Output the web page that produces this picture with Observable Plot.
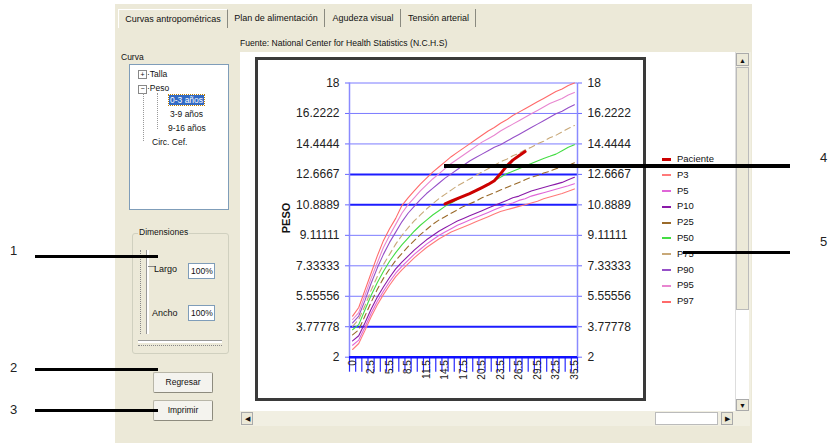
<!DOCTYPE html>
<html><head><meta charset="utf-8">
<script src="https://cdn.jsdelivr.net/npm/d3@7"></script>
<script src="https://cdn.jsdelivr.net/npm/@observablehq/plot@0.6"></script>
<style>
body{margin:0;width:835px;height:443px;overflow:hidden;background:#fff;font-family:"Liberation Sans",Arial,sans-serif;position:relative;color:#111}
.a{position:absolute}
.tab{position:absolute;top:9px;height:18px;line-height:18px;font-size:9px;text-align:center;border-right:1px solid #8a8a80;color:#111}
.tree{position:absolute;font-size:8.5px;white-space:nowrap}
.btn{position:absolute;left:153px;width:58px;height:19px;line-height:19px;font-size:8.5px;text-align:center;background:#f4f3ee;border:1px solid #b8b6a8;border-right-color:#8d8b7e;border-bottom-color:#8d8b7e;border-radius:2px}
.inp{position:absolute;left:188px;width:23px;height:14px;line-height:14px;font-size:8.5px;background:#fff;border:1px solid #7f9db9;padding-left:2px}
.leg{position:absolute;left:662px;font-size:9.5px;height:12px;line-height:12px;white-space:nowrap}
.leg i{display:inline-block;width:9px;height:2px;vertical-align:middle;margin-right:6px}
.cl{position:absolute;background:#000}
.num{position:absolute;font-size:13px;color:#222}
</style></head><body>
<div class="a" style="left:115px;top:4px;width:637px;height:439px;background:#ECE9D8"></div>
<div class="tab" style="left:118px;width:108px;border-left:1px solid #fff;border-top:1px solid #fff">Curvas antropométricas</div>
<div class="tab" style="left:228px;width:96px">Plan de  alimentación</div>
<div class="tab" style="left:326px;width:74px">Agudeza visual</div>
<div class="tab" style="left:402px;width:73px">Tensión arterial</div>
<div class="a" style="left:240px;top:38px;font-size:8.6px">Fuente:  National Center for Health Statistics (N.C.H.S)</div>
<div class="a" style="left:121px;top:52px;font-size:8.5px">Curva</div>
<div class="a" style="left:129px;top:64px;width:98px;height:144px;background:#fff;border:1px solid #7f9db9"></div>
<div class="tree" style="left:138px;top:69px"><span style="display:inline-block;width:7px;height:7px;border:1px solid #888;font-size:7px;line-height:7px;text-align:center">+</span>·Talla</div>
<div class="tree" style="left:138px;top:83px"><span style="display:inline-block;width:7px;height:7px;border:1px solid #888;font-size:7px;line-height:6px;text-align:center">−</span>·Peso</div>
<div class="a" style="left:143px;top:93px;width:1px;height:48px;border-left:1px dotted #999"></div>
<div class="a" style="left:157px;top:93px;width:1px;height:36px;border-left:1px dotted #999"></div>
<div class="tree" style="left:169px;top:95px;background:#316ac5;color:#fff;outline:1px dotted #c08000;padding:0 1px">0-3 años</div>
<div class="tree" style="left:170px;top:109px">3-9 años</div>
<div class="tree" style="left:168px;top:123px">9-16 años</div>
<div class="tree" style="left:152px;top:137px">Circ. Cef.</div>
<div class="a" style="left:132px;top:233px;width:95px;height:119px;border:1px solid #d0d0bf;border-radius:3px"></div>
<div class="a" style="left:138px;top:227px;font-size:8.5px;background:#ECE9D8;padding:0 1px">Dimensiones</div>
<div class="a" style="left:146px;top:250px;width:2px;height:84px;background:#fff;border-left:1px solid #999"></div>
<div class="a" style="left:140px;top:250px;width:1px;height:84px;border-left:1px dotted #888"></div>
<div class="a" style="left:148px;top:266px;width:8px;height:1px;background:#888"></div>
<div class="a" style="left:138px;top:340px;width:84px;height:2px;background:#fff;border-top:1px solid #999"></div>
<div class="a" style="left:138px;top:345px;width:84px;height:1px;border-top:1px dotted #888"></div>
<div class="a" style="left:154px;top:264px;font-size:9px">Largo</div>
<div class="inp" style="top:263px">100%</div>
<div class="a" style="left:152px;top:308px;font-size:9px">Ancho</div>
<div class="inp" style="top:305px">100%</div>
<div class="btn" style="top:372px">Regresar</div>
<div class="btn" style="top:400px">Imprimir</div>
<div class="a" style="left:240px;top:52px;width:495px;height:359px;background:#fff"></div>
<div class="a" style="left:735px;top:52px;width:15px;height:359px;background:#f1efe2;border-left:1px solid #ddd"></div>
<div class="a" style="left:736px;top:53px;width:13px;height:13px;background:#ECE9D8;border:1px solid #aaa;font-size:7px;text-align:center;line-height:13px;box-sizing:border-box">▲</div>
<div class="a" style="left:736px;top:67px;width:13px;height:243px;background:#ECE9D8;border:1px solid #bbb;box-sizing:border-box"></div>
<div class="a" style="left:736px;top:310px;width:13px;height:90px;background:#fff"></div>
<div class="a" style="left:736px;top:399px;width:13px;height:12px;background:#ECE9D8;border:1px solid #aaa;font-size:7px;text-align:center;line-height:11px;box-sizing:border-box">▼</div>
<div class="a" style="left:240px;top:411px;width:510px;height:15px;background:#f1efe2"></div>
<div class="a" style="left:241px;top:412px;width:12px;height:13px;background:#ECE9D8;border:1px solid #aaa;font-size:7px;text-align:center;line-height:12px;box-sizing:border-box">◀</div>
<div class="a" style="left:655px;top:412px;width:63px;height:13px;background:#fff;border:1px solid #bbb;box-sizing:border-box"></div>
<div class="a" style="left:721px;top:412px;width:12px;height:13px;background:#ECE9D8;border:1px solid #aaa;font-size:7px;text-align:center;line-height:12px;box-sizing:border-box">▶</div>
<div class="a" style="left:255px;top:57px;width:385px;height:338px;border:3px solid #3a3a3a;background:#fff"></div>
<div id="chart" class="a" style="left:258px;top:60px;width:385px;height:338px"></div>
<div class="a" style="left:286px;top:218px;transform:translate(-50%,-50%) rotate(-90deg);font-size:11px;font-weight:bold;color:#111">PESO</div>
<div id="legend"></div>
<div class="num" style="left:10px;top:243px">1</div>
<div class="cl" style="left:35px;top:255px;width:123px;height:3px"></div>
<div class="num" style="left:10px;top:360px">2</div>
<div class="cl" style="left:35px;top:368px;width:123px;height:3px"></div>
<div class="num" style="left:10px;top:402px">3</div>
<div class="cl" style="left:35px;top:409px;width:123px;height:3px"></div>
<div class="cl" style="left:444px;top:164px;width:346px;height:4px"></div>
<div class="num" style="left:820px;top:150px">4</div>
<div class="cl" style="left:683px;top:251px;width:107px;height:3px"></div>
<div class="num" style="left:820px;top:234px">5</div>
<script>
// Age categories (months)
const ages = [0,0.5,1.5,2.5,3.5,4.5,5.5,6.5,7.5,8.5,9.5,10.5,11.5,12.5,13.5,14.5,15.5,16.5,17.5,18.5,19.5,20.5,21.5,22.5,23.5,24.5,25.5,26.5,27.5,28.5,29.5,30.5,31.5,32.5,33.5,34.5,35.5];
// Percentile curves (kg)
const p3  = [2.45,2.8,3.55,4.35,5.05,5.65,6.2,6.7,7.1,7.45,7.8,8.1,8.4,8.65,8.9,9.1,9.3,9.45,9.6,9.75,9.9,10.05,10.2,10.35,10.5,10.6,10.7,10.8,10.9,11.0,11.1,11.25,11.35,11.45,11.55,11.68,11.82];
const p5  = [2.7,3.0,3.75,4.55,5.25,5.85,6.4,6.9,7.3,7.65,8.0,8.3,8.6,8.85,9.1,9.3,9.5,9.7,9.85,10.0,10.15,10.3,10.45,10.6,10.75,10.9,11.0,11.15,11.25,11.4,11.5,11.6,11.7,11.8,11.9,12.0,12.12];
const p10 = [2.95,3.25,4.0,4.8,5.5,6.1,6.65,7.15,7.55,7.9,8.25,8.55,8.85,9.1,9.35,9.55,9.75,9.95,10.1,10.25,10.4,10.55,10.7,10.85,11.0,11.15,11.3,11.4,11.55,11.7,11.8,11.9,12.0,12.1,12.2,12.35,12.5];
const p25 = [3.3,3.6,4.4,5.2,5.95,6.6,7.15,7.65,8.05,8.45,8.8,9.15,9.45,9.75,10.0,10.2,10.4,10.6,10.8,10.95,11.1,11.3,11.45,11.6,11.75,11.9,12.05,12.2,12.35,12.5,12.6,12.75,12.85,13.0,13.1,13.2,13.34];
const p50 = [3.6,3.9,4.75,5.6,6.35,7.0,7.6,8.1,8.55,8.95,9.35,9.7,10.0,10.3,10.55,10.8,11.0,11.2,11.4,11.55,11.75,11.9,12.1,12.3,12.5,12.7,12.85,13.0,13.15,13.3,13.45,13.6,13.72,13.85,14.05,14.25,14.4];
const p75 = [3.8,4.2,5.0,5.9,6.7,7.4,8.0,8.6,9.1,9.55,9.95,10.3,10.65,10.95,11.25,11.5,11.75,12.0,12.2,12.4,12.6,12.8,13.0,13.2,13.4,13.55,13.75,13.9,14.1,14.25,14.45,14.6,14.8,14.95,15.15,15.35,15.52];
const p90 = [4.0,4.4,5.3,6.3,7.2,8.0,8.7,9.3,9.9,10.4,10.8,11.2,11.55,11.85,12.15,12.45,12.7,12.95,13.2,13.45,13.65,13.85,14.05,14.25,14.4,14.6,14.8,15.0,15.2,15.4,15.6,15.8,16.0,16.2,16.35,16.55,16.73];
const p95 = [4.2,4.6,5.6,6.6,7.5,8.4,9.1,9.75,10.4,10.9,11.3,11.7,12.05,12.4,12.7,13.0,13.3,13.55,13.8,14.05,14.3,14.55,14.75,14.95,15.2,15.4,15.6,15.8,16.0,16.2,16.4,16.6,16.8,16.95,17.1,17.3,17.45];
const p97 = [4.4,4.9,5.9,6.9,7.9,8.8,9.5,10.1,10.85,11.3,11.7,12.1,12.45,12.8,13.1,13.4,13.7,13.95,14.2,14.45,14.7,14.95,15.2,15.4,15.65,15.85,16.1,16.3,16.5,16.7,16.9,17.1,17.3,17.5,17.65,17.85,18.0];
// Patient
const patientAges = [14.5,15.5,16.5,17.5,18.5,19.5,20.5,21.5,22.5,23.5,24.5,25.5,26.5,27.5];
const patient     = [10.95,11.1,11.25,11.4,11.55,11.72,11.9,12.08,12.3,12.7,13.15,13.5,13.75,14.0];
// Axis ticks
const yTicks = [2,3.77778,5.55556,7.33333,9.11111,10.8889,12.6667,14.4444,16.2222,18];
const heavyGrid = [3.77778,10.8889,12.6667];
const xLabelAges = [0,2.5,5.5,8.5,11.5,14.5,17.5,20.5,23.5,26.5,29.5,32.5,35.5];
const seriesNames = ["Paciente","P3","P5","P10","P25","P50","P75","P90","P95","P97"];
const seriesColors = ["#cc0000","#ff7a7a","#e066d8","#8a1aa8","#9a6a2a","#44dd44","#c8a878","#9650c8","#e886d0","#ff6a6a"];

const curves = {P3:p3,P5:p5,P10:p10,P25:p25,P50:p50,P75:p75,P90:p90,P95:p95,P97:p97};
const color = Object.fromEntries(seriesNames.map((n,k)=>[n,seriesColors[k]]));
const lightGrid = yTicks.filter(d=>!heavyGrid.includes(d) && d!==2);
const boundaries = d3.range(ages.length+1).map(k=>k-0.5);
const labelIdx = xLabelAges.map(a=>ages.indexOf(a));

const lineMarks = Object.entries(curves).map(([name,vals])=>{
  const data = vals.map((v,i)=>({i,v}));
  const dashed = name==="P25"||name==="P75";
  return Plot.line(data,{x:"i",y:"v",stroke:color[name],strokeWidth:1.1,strokeDasharray:dashed?"6,4":null,curve:"linear"});
});
const patientData = patientAges.map((a,k)=>({i:ages.indexOf(a),v:patient[k]}));

const chart = Plot.plot({
  width:385,height:338,marginLeft:91,marginRight:66,marginTop:22.5,marginBottom:41.3,
  x:{domain:[-0.5,ages.length-0.5]},
  y:{domain:[2,18]},
  style:{background:"transparent",fontFamily:"'Liberation Sans',Arial,sans-serif",fontSize:"12px",color:"#222",overflow:"visible"},
  marks:[
    Plot.ruleY(lightGrid,{stroke:"#7b7bff",strokeWidth:1}),
    Plot.ruleY(heavyGrid,{stroke:"#1c1cff",strokeWidth:2}),
    Plot.ruleX([-0.5,ages.length-0.5],{stroke:"#8a8aff",strokeWidth:1.5}),
    Plot.axisY(yTicks,{anchor:"left",tickSize:4,tickPadding:6,stroke:"#6a6aff",fill:"#222",fontSize:12,tickFormat:d=>String(d),label:null}),
    Plot.axisY(yTicks,{anchor:"right",tickSize:4,tickPadding:6,stroke:"#6a6aff",fill:"#222",fontSize:12,tickFormat:d=>String(d),label:null}),
    Plot.axisX(boundaries,{anchor:"bottom",tickSize:15,stroke:"#2a2aff",strokeWidth:1.2,tickFormat:()=>"",label:null}),
    Plot.axisX(labelIdx,{anchor:"bottom",tickSize:0,tickPadding:3,tickRotate:-90,fill:"#222",fontSize:10,tickFormat:i=>String(ages[i]),label:null}),
    Plot.ruleY([2],{stroke:"#1010ff",strokeWidth:2.5}),
    ...lineMarks,
    Plot.line(patientData,{x:"i",y:"v",stroke:color["Paciente"],strokeWidth:3,strokeLinejoin:"round",strokeLinecap:"round"})
  ]
});
document.getElementById("chart").appendChild(chart);

const leg = document.getElementById("legend");
seriesNames.forEach((n,k)=>{
  const d = document.createElement("div");
  d.className = "leg";
  d.style.top = (153 + k*15.8) + "px";
  d.innerHTML = `<i style="background:${color[n]};height:${n==="Paciente"?3:2}px"></i>${n}`;
  leg.appendChild(d);
});
</script>
</body></html>
